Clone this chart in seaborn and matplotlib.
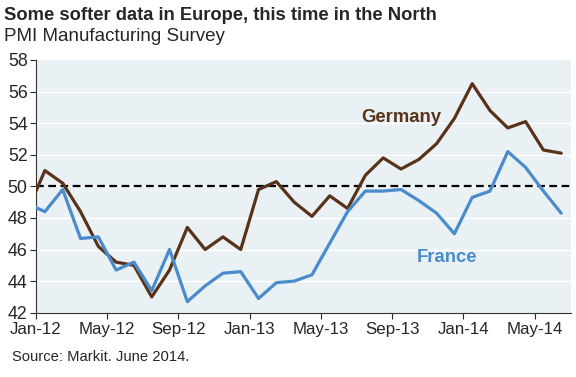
import pandas as pd
import matplotlib
matplotlib.use('Agg')
import matplotlib.pyplot as plt
import seaborn as sns

# Monthly PMI readings, Dec-11 through Jun-14 (Dec-11 sits just off the left edge)
months = pd.period_range('2011-12', '2014-06', freq='M').strftime('%b-%y').tolist()
germany = [48.4, 51.0, 50.2, 48.4, 46.2, 45.2, 45.0, 43.0, 44.7, 47.4, 46.0, 46.8, 46.0,
           49.8, 50.3, 49.0, 48.1, 49.4, 48.6, 50.7, 51.8, 51.1, 51.7, 52.7, 54.3,
           56.5, 54.8, 53.7, 54.1, 52.3, 52.1]
france = [48.9, 48.4, 49.8, 46.7, 46.8, 44.7, 45.2, 43.4, 46.0, 42.7, 43.7, 44.5, 44.6,
          42.9, 43.9, 44.0, 44.4, 46.4, 48.4, 49.7, 49.7, 49.8, 49.1, 48.3, 47.0,
          49.3, 49.7, 52.2, 51.2, 49.7, 48.3]
tick_labels = ['Jan-12', 'May-12', 'Sep-12', 'Jan-13', 'May-13', 'Sep-13', 'Jan-14', 'May-14']

df = pd.DataFrame({
    'idx': list(range(-1, len(months) - 1)) * 2,
    'PMI': germany + france,
    'Country': ['Germany'] * len(germany) + ['France'] * len(france),
})

sns.set_style('white')
plt.rcParams['font.family'] = ['Liberation Sans', 'DejaVu Sans']

colors = {'Germany': '#5a3219', 'France': '#4a8ccb'}

fig = plt.figure(figsize=(5.76, 3.77), dpi=100)
ax = fig.add_axes([36 / 576, 1 - 312.7 / 377, (571 - 36) / 576, (312.7 - 60) / 377])
ax.set_facecolor('#e9f1f5')

for y in range(44, 58, 2):
    ax.axhline(y, color='white', lw=1.0, zorder=1)
ax.axhline(50, color='black', lw=1.6, ls=(0, (3.5, 2)), zorder=2)

sns.lineplot(data=df, x='idx', y='PMI', hue='Country', palette=colors,
             linewidth=2.3, legend=False, ax=ax, zorder=3)

ax.set_xlim(-0.5, 29.55)
ax.set_ylim(42, 58)
ax.set_xticks([i * 4 - 0.5 for i in range(len(tick_labels))])
ax.set_xticklabels(tick_labels, fontsize=12.2)
ax.set_yticks(range(42, 59, 2))
ax.tick_params(axis='y', labelsize=12.8, length=4, width=0.8, direction='out', left=True, pad=2)
ax.tick_params(axis='x', length=4, width=0.8, direction='out', bottom=True, pad=3)
ax.set_xlabel('')
ax.set_ylabel('')
for s in ['top', 'right']:
    ax.spines[s].set_visible(False)
for s in ['left', 'bottom']:
    ax.spines[s].set_color('#333333')
    ax.spines[s].set_linewidth(0.8)

ax.text(20.0, 54.1, 'Germany', color=colors['Germany'], fontsize=13.3, fontweight='bold', ha='center')
ax.text(22.6, 45.2, 'France', color=colors['France'], fontsize=13.3, fontweight='bold', ha='center')

fig.text(4 / 576, 1 - 20 / 377, 'Some softer data in Europe, this time in the North',
         fontsize=13.2, fontweight='bold')
fig.text(4 / 576, 1 - 41 / 377, 'PMI Manufacturing Survey', fontsize=13.5)
fig.text(12 / 576, 1 - 361 / 377, 'Source: Markit. June 2014.', fontsize=10.6)

fig.savefig('out.png', dpi=100)
